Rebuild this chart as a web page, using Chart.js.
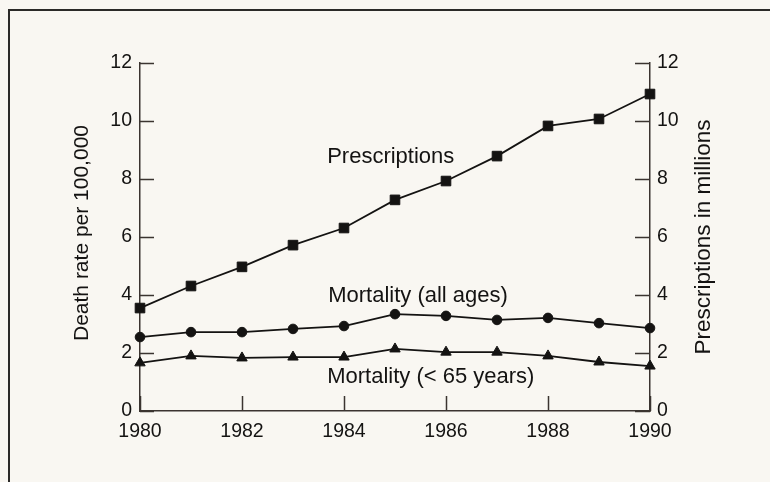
<!DOCTYPE html>
<html lang="en">
<head>
    <meta charset="UTF-8">
    <title>Prescriptions and mortality, 1980-1990</title>
    <script src="https://cdn.jsdelivr.net/npm/chart.js"></script>
    <style>
        html, body {
            margin: 0;
            padding: 0;
            background-color: #f9f7f2;
            overflow: hidden;
        }

        .wrap {
            position: relative;
            width: 770px;
            height: 482px;
        }

        .frame {
            position: absolute;
            left: 8px;
            top: 9px;
            right: -10px;
            bottom: -10px;
            border: 2px solid #2b2a28;
        }
    </style>
</head>
<body>
    <div class="wrap">
        <div class="frame"></div>
        <canvas id="chart"></canvas>
    </div>

    <script>
        // values
        const years = [1980, 1981, 1982, 1983, 1984, 1985, 1986, 1987, 1988, 1989, 1990];
        const prescriptions = [3.55, 4.31, 4.97, 5.72, 6.31, 7.28, 7.93, 8.79, 9.83, 10.07, 10.93];
        const mortalityAll = [2.55, 2.72, 2.72, 2.83, 2.93, 3.34, 3.28, 3.14, 3.21, 3.03, 2.86];
        const mortalityUnder65 = [1.66, 1.90, 1.83, 1.86, 1.86, 2.14, 2.03, 2.03, 1.90, 1.69, 1.55];

        const xTicks = [1980, 1982, 1984, 1986, 1988, 1990];
        const yTicks = [0, 2, 4, 6, 8, 10, 12];

        // series labels, anchored in data units (year, value at baseline)
        const labelText = ["Prescriptions", "Mortality (all ages)", "Mortality (< 65 years)"];
        const labelYear = [1983.67, 1983.69, 1983.67];
        const labelValue = [8.55, 3.76, 0.97];

        const leftTitle = "Death rate per 100,000";
        const rightTitle = "Prescriptions in millions";

        const ink = "#141312";
        const axisInk = "#3b3430";
        const font = '"Liberation Sans", Arial, Helvetica, sans-serif';

        // ticks in the original point inward, so draw them ourselves
        const innerTicks = {
            id: "innerTicks",
            afterDraw(chart) {
                const { ctx, chartArea, scales } = chart;
                ctx.save();
                ctx.strokeStyle = axisInk;
                ctx.lineWidth = 1.5;
                ctx.beginPath();
                yTicks.forEach(v => {
                    const y = Math.round(scales.y.getPixelForValue(v)) + 0.5;
                    ctx.moveTo(chartArea.left, y);
                    ctx.lineTo(chartArea.left + 14, y);
                    ctx.moveTo(chartArea.right, y);
                    ctx.lineTo(chartArea.right - 15, y);
                });
                xTicks.forEach(v => {
                    const x = Math.round(scales.x.getPixelForValue(v)) + 0.5;
                    ctx.moveTo(x, chartArea.bottom);
                    ctx.lineTo(x, chartArea.bottom - 15);
                });
                ctx.stroke();

                // axis titles
                ctx.fillStyle = ink;
                ctx.textAlign = "center";
                ctx.textBaseline = "middle";
                ctx.font = "21px " + font;
                ctx.save();
                ctx.translate(chartArea.left - 58, 233);
                ctx.rotate(-Math.PI / 2);
                ctx.fillText(leftTitle, 0, 0);
                ctx.restore();

                ctx.font = "22.5px " + font;
                ctx.save();
                ctx.translate(chartArea.right + 54, 237);
                ctx.rotate(-Math.PI / 2);
                ctx.fillText(rightTitle, 0, 0);
                ctx.restore();

                // series labels
                ctx.font = "22px " + font;
                ctx.textAlign = "left";
                ctx.textBaseline = "alphabetic";
                labelText.forEach((t, i) => {
                    ctx.fillText(t, scales.x.getPixelForValue(labelYear[i]), scales.y.getPixelForValue(labelValue[i]));
                });
                ctx.restore();
            }
        };

        const series = (label, data, style, radius, axis) => ({
            label: label,
            data: years.map((yr, i) => ({ x: yr, y: data[i] })),
            yAxisID: axis,
            borderColor: ink,
            backgroundColor: ink,
            borderWidth: 1.8,
            pointStyle: style,
            pointRadius: radius,
            pointBorderWidth: 1,
            pointBackgroundColor: ink,
            pointBorderColor: ink,
            tension: 0,
            clip: false
        });

        new Chart(document.getElementById("chart"), {
            type: "line",
            data: {
                datasets: [
                    series("Prescriptions", prescriptions, "rect", 6.8, "y2"),
                    series("Mortality (all ages)", mortalityAll, "circle", 4.8, "y"),
                    series("Mortality (< 65 years)", mortalityUnder65, "triangle", 6, "y")
                ]
            },
            options: {
                responsive: true,
                maintainAspectRatio: false,
                animation: false,
                events: [],
                layout: { padding: { top: 63, left: 0, right: 0, bottom: 0 } },
                plugins: {
                    legend: { display: false },
                    tooltip: { enabled: false }
                },
                scales: {
                    x: {
                        type: "linear",
                        min: 1980,
                        max: 1990,
                        afterBuildTicks: s => { s.ticks = xTicks.map(v => ({ value: v })); },
                        afterFit: s => { s.height = 71; },
                        grid: { display: false, drawTicks: false },
                        border: { display: true, color: axisInk, width: 1.5 },
                        ticks: {
                            color: ink,
                            padding: 9,
                            maxRotation: 0,
                            font: { family: font, size: 19.5 },
                            callback: v => String(v)
                        }
                    },
                    y: {
                        position: "left",
                        min: 0,
                        max: 12,
                        afterBuildTicks: s => { s.ticks = yTicks.map(v => ({ value: v })); },
                        afterFit: s => { s.width = 140; },
                        grid: { display: false, drawTicks: false },
                        border: { display: true, color: axisInk, width: 1.5 },
                        ticks: {
                            color: ink,
                            padding: 8,
                            font: { family: font, size: 19.5 }
                        }
                    },
                    y2: {
                        position: "right",
                        min: 0,
                        max: 12,
                        afterBuildTicks: s => { s.ticks = yTicks.map(v => ({ value: v })); },
                        afterFit: s => { s.width = 120; },
                        grid: { display: false, drawTicks: false },
                        border: { display: true, color: axisInk, width: 1.5 },
                        ticks: {
                            color: ink,
                            padding: 7,
                            font: { family: font, size: 19.5 }
                        }
                    }
                }
            },
            plugins: [innerTicks]
        });
    </script>
</body>
</html>
